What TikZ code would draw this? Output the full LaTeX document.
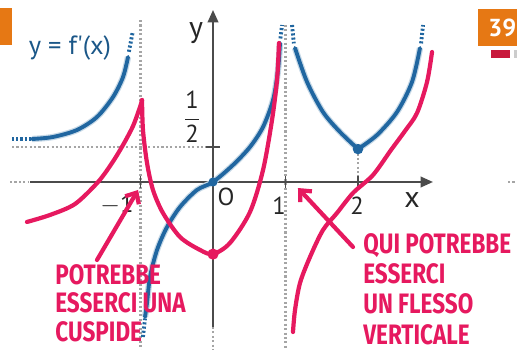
\documentclass[tikz,border=0pt]{standalone}
\usepackage{fontspec}
\setmainfont{PT Sans}
\newfontfamily\handfont[FakeStretch=0.8]{Fira Sans}
\usetikzlibrary{arrows.meta}
\definecolor{curveblue}{RGB}{32,102,160}
\definecolor{handpink}{RGB}{230,25,95}
\definecolor{axisgray}{RGB}{75,75,75}
\definecolor{dotgray}{RGB}{165,165,165}
\definecolor{tagorange}{RGB}{230,120,20}
\definecolor{tagred}{RGB}{200,25,60}
\tikzset{
  axis/.style={axisgray,line width=1.1pt},
  guide/.style={dotgray,line width=1.2pt,dash pattern=on 1.2pt off 1.3pt},
  branch/.style={curveblue,line width=2.2pt,line cap=round,line join=round,
    preaction={draw,curveblue!25,line width=3.6pt}},
  branchend/.style={curveblue,line width=2.2pt,dash pattern=on 1.2pt off 1.2pt},
  ink/.style={handpink,line width=2.4pt,line cap=round,line join=round},
  note/.style={handpink,align=left,inner sep=0pt,anchor=west},
  lbl/.style={text=black!85,inner sep=0pt}
}
\begin{document}
\begin{tikzpicture}[x=1.45cm,y=1.4cm]
\useasboundingbox (-2.938,-2.4) rectangle (4.193,2.6);
\draw[guide] (-2.772,0.5) -- (0,0.5);
\draw[guide] (-1,2.314) -- (-1,-2.4);
\draw[guide] (1,2.243) -- (1,-2.4);
\draw[guide] (2,0.47) -- (2,0);
\draw[guide] (0,-2.071) -- (0,-2.4);
\draw[guide] (-2.8,0) -- (-2.55,0);
\draw[guide] (4.07,0) -- (4.193,0);
\draw[axis,-{Triangle[length=7pt,width=6pt]}] (-2.524,0) -- (3.034,0);
\draw[axis,-{Triangle[length=7pt,width=6pt]}] (0,-2.071) -- (0,2.457);
\foreach \t in {-1,1,2} {\draw[axis] (\t,-0.08) -- (\t,0.08);}
\draw[axis] (-0.1,0.5) -- (0.1,0.5);
\node[lbl,font=\fontsize{17}{19}\selectfont] (ylab) at (-0.234,2.129) {y};
\node[lbl,font=\fontsize{17}{19}\selectfont] (xlab) at (2.745,-0.257) {x};
\node[lbl,font=\fontsize{14}{16}\selectfont] (olab) at (0.179,-0.214) {O};
\node[lbl,font=\fontsize{14}{16}\selectfont] (onelab) at (0.910,-0.343) {1};
\node[lbl,font=\fontsize{14}{16}\selectfont] (twolab) at (1.986,-0.343) {2};
\node[lbl,font=\fontsize{14}{16}\selectfont] (mlab) at (-1.324,-0.329) {$-$1};
\node[lbl,font=\fontsize{14}{16}\selectfont] (halflab) at (-0.290,0.929) {$\displaystyle\frac{\mathrm{1}}{\mathrm{2}}$};
\node[text=curveblue!85!black,font=\fontsize{15}{17}\selectfont] (fname) at (-1.972,1.914) {y = f\textquotesingle(x)};
\draw[branchend] (-2.772,0.614) -- (-2.497,0.614);
\draw[branch] plot[smooth] coordinates {(-2.497,0.614) (-2.207,0.643) (-1.876,0.743) (-1.600,0.929) (-1.379,1.214) (-1.241,1.5) (-1.172,1.786)};
\draw[branchend] (-1.16,1.86) -- (-1.11,2.13);
\draw[branchend] (-0.966,-2.214) -- (-0.938,-1.95);
\draw[branch] plot[smooth] coordinates {(-0.938,-1.929) (-0.910,-1.729) (-0.869,-1.357) (-0.772,-0.971) (-0.634,-0.643) (-0.455,-0.357) (-0.221,-0.114) (0,0) (0.276,0.243) (0.510,0.5) (0.690,0.786) (0.828,1.171) (0.897,1.6) (0.924,1.986)};
\draw[branchend] (0.93,2.05) -- (0.952,2.243);
\draw[branchend] (1.09,2.243) -- (1.115,1.98);
\draw[branch] plot[smooth] coordinates {(1.131,1.914) (1.297,1.429) (1.517,1.0) (1.752,0.714) (2,0.47)};
\draw[branch] plot[smooth] coordinates {(2,0.47) (2.262,0.671) (2.538,1.0) (2.745,1.429) (2.855,1.914)};
\draw[branchend] (2.87,1.98) -- (2.897,2.243);
\fill[curveblue] (0,0) circle (2.6pt);
\fill[curveblue] (2,0.47) circle (3pt);
\draw[ink] plot[smooth] coordinates {(-2.566,-0.571) (-2.248,-0.471) (-1.903,-0.314) (-1.586,0) (-1.393,0.271) (-1.241,0.529) (-1.103,0.8) (-1.007,1.071) (-0.979,1.171)};
\draw[ink] plot[smooth] coordinates {(-0.979,1.171) (-0.966,0.743) (-0.910,0.271) (-0.828,-0.114) (-0.690,-0.443) (-0.455,-0.786) (-0.179,-0.971) (0,-1.029) (0.234,-0.871) (0.510,-0.429) (0.690,0.171) (0.814,0.886) (0.883,1.457) (0.910,1.986)};
\draw[ink] plot[smooth] coordinates {(1.103,-2.143) (1.131,-1.829) (1.2,-1.443) (1.338,-1.071) (1.517,-0.686) (1.710,-0.443) (1.931,-0.157) (2.207,0.1) (2.455,0.457) (2.648,0.729) (2.814,0.986) (2.952,1.429) (3.021,1.857)};
\fill[handpink] (0,-1.03) circle (3.2pt);
\node[note,font=\handfont\bfseries\fontsize{16}{16.2}\selectfont] (cuspnote) at (-2.179,-1.729) {POTREBBE\\ESSERCI UNA\\CUSPIDE};
\node[note,font=\handfont\bfseries\fontsize{16}{17.2}\selectfont] (flexnote) at (2.069,-1.53) {QUI POTREBBE\\ESSERCI\\UN FLESSO\\VERTICALE};
\coordinate (cuspfoot) at (-1.6,-1.114);
\coordinate (cusptip) at (-1.034,-0.114);
\coordinate (flexfoot) at (1.931,-0.929);
\coordinate (flextip) at (1.172,-0.086);
\draw[ink,-{Straight Barb[length=5pt,width=9pt]}] (cuspfoot) -- (cusptip);
\draw[ink,-{Straight Barb[length=5pt,width=9pt]}] (flexfoot) -- (flextip);
\fill[tagorange] (-2.938,2.486) rectangle (-2.772,1.957);
\fill[tagorange] (3.655,2.471) rectangle (4.3,1.943);
\node[text=white,font=\bfseries\fontsize{14}{16}\selectfont,anchor=west,inner sep=0pt] (tagnum) at (3.793,2.207) {39};
\fill[tagred] (3.834,1.886) rectangle (4.097,1.771);
\fill[black!20] (4.15,1.886) rectangle (4.3,1.771);
\end{tikzpicture}
\end{document}
